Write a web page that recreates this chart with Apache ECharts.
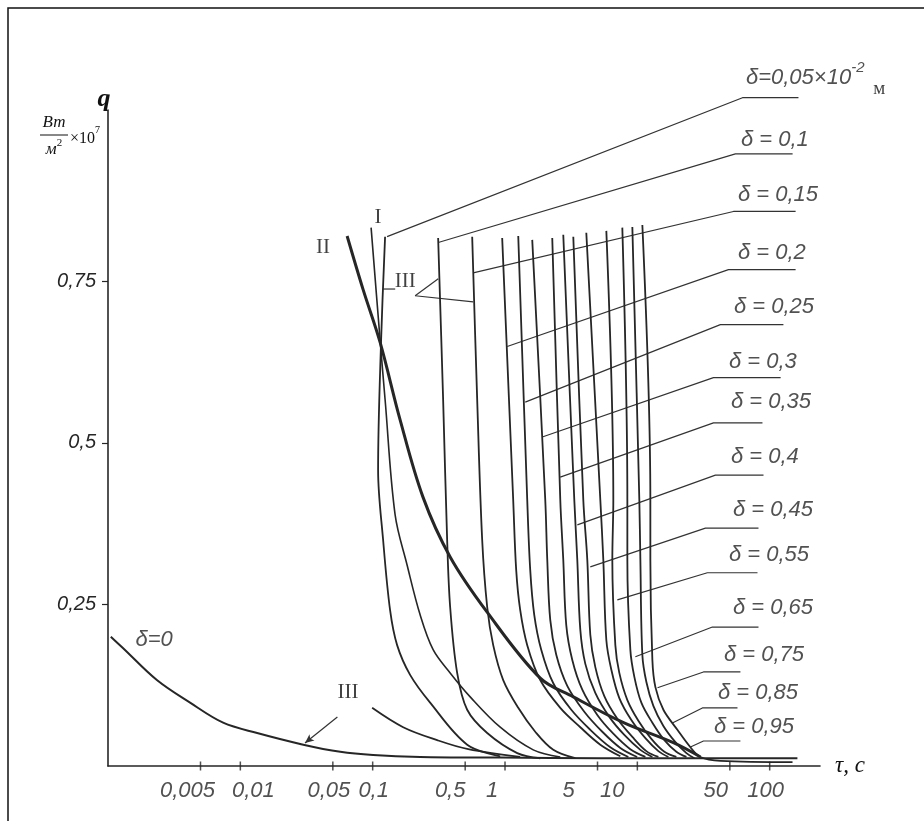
<!DOCTYPE html>
<html><head><meta charset="utf-8"><title>q(τ)</title>
<script src="https://cdn.jsdelivr.net/npm/echarts@6.0.0/dist/echarts.min.js"></script>
<style>html,body{margin:0;padding:0;background:#fff;}#chart{width:924px;height:821px;}</style>
</head><body><div id="chart"></div>
<script>
// ---------- data (τ in s, q in W/m² ×10^7) ----------
const xTickValues = [0.005, 0.01, 0.05, 0.1, 0.5, 1, 5, 10, 50, 100];
const xTickLabels = ['0,005', '0,01', '0,05', '0,1', '0,5', '1', '5', '10', '50', '100'];
const yTickValues = [0.25, 0.5, 0.75];
const yTickLabels = ['0,25', '0,5', '0,75'];

const curveDelta0 = [[0.00105,0.200],[0.00129,0.183],[0.00234,0.133],[0.00417,0.098],[0.00741,0.067],[0.0134,0.051],[0.0299,0.033],[0.0569,0.022],[0.1007,0.017],[0.229,0.014],[0.92,0.013],[5.25,0.012],[29.96,0.012],[162,0.012]];
const curveIIIshort = [[0.0991,0.090],[0.170,0.060],[0.307,0.040],[0.527,0.026],[1.30,0.014]];
const curveII = [[0.0641,0.820],[0.0847,0.737],[0.114,0.655],[0.161,0.536],[0.240,0.416],[0.385,0.3235],[0.733,0.238],[1.846,0.136],[3.281,0.107],[7.87,0.067],[18.7,0.036],[30.0,0.014]];
const curveI = [[0.0973,0.833],[0.1138,0.659],[0.1241,0.567],[0.1477,0.389],[0.182,0.311],[0.2283,0.234],[0.2863,0.180],[0.385,0.144],[0.5455,0.107],[0.92,0.060],[1.634,0.025],[2.616,0.014]];

const curveD005 = [[0.1241,0.819],[0.1158,0.659],[0.1099,0.458],[0.1199,0.350],[0.1354,0.241],[0.153,0.187],[0.1918,0.141],[0.2717,0.098],[0.5177,0.033],[0.92,0.015]];
const curveD010 = [[0.3124,0.817],[0.3407,0.567],[0.3654,0.350],[0.385,0.246],[0.4349,0.144],[0.5177,0.087],[0.7334,0.051],[1.237,0.020],[1.846,0.012]];
const curveD015 = [[0.5649,0.819],[0.6162,0.567],[0.6721,0.350],[0.7334,0.246],[0.8143,0.187],[0.9691,0.133],[1.259,0.090],[1.692,0.053],[2.316,0.025],[3.396,0.012]];
const curveD020 = [[0.952,0.817],[1.153,0.412],[1.215,0.303],[1.303,0.241],[1.472,0.187],[1.846,0.133],[2.616,0.090],[3.706,0.060],[5.25,0.033],[7.436,0.015]];
const curveD025 = [[1.259,0.820],[1.472,0.412],[1.551,0.303],[1.663,0.234],[1.878,0.180],[2.316,0.128],[3.168,0.087],[4.411,0.056],[6.25,0.029],[8.55,0.014]];
const curveD030 = [[1.606,0.814],[2.014,0.412],[2.086,0.319],[2.197,0.226],[2.439,0.172],[2.954,0.124],[3.973,0.084],[5.435,0.053],[7.436,0.028],[9.966,0.014]];
const curveD035 = [[2.275,0.817],[2.616,0.412],[2.756,0.319],[2.903,0.218],[3.224,0.164],[3.837,0.118],[4.983,0.079],[6.583,0.050],[8.851,0.026],[11.5,0.014]];
const curveD040 = [[2.756,0.822],[3.338,0.412],[3.517,0.319],[3.706,0.211],[4.044,0.158],[4.812,0.113],[6.141,0.076],[7.973,0.048],[10.54,0.025],[12.99,0.014]];
const curveD045 = [[3.281,0.819],[3.904,0.412],[4.186,0.319],[4.411,0.203],[4.812,0.153],[5.628,0.108],[7.061,0.073],[9.167,0.045],[11.7,0.023],[14.42,0.014]];
const curveD055 = [[4.114,0.825],[5.25,0.412],[5.531,0.319],[5.829,0.195],[6.359,0.149],[7.308,0.105],[9.008,0.071],[11.5,0.043],[14.42,0.023],[17.16,0.014]];
const curveD065 = [[5.829,0.828],[6.583,0.412],[6.47,0.319],[6.818,0.187],[7.308,0.144],[8.404,0.102],[10.18,0.070],[12.76,0.042],[16.01,0.022],[19.72,0.014]];
const curveD075 = [[7.699,0.833],[8.404,0.412],[8.404,0.319],[8.851,0.180],[9.491,0.138],[10.72,0.098],[12.99,0.067],[16.01,0.040],[19.72,0.022],[23.49,0.014]];
const curveD085 = [[9.167,0.834],[10.35,0.412],[10.54,0.319],[10.91,0.172],[11.7,0.130],[13.21,0.093],[15.73,0.062],[19.39,0.037],[23.49,0.020],[26.99,0.012]];
const curveD095 = [[10.91,0.837],[12.54,0.412],[12.54,0.319],[12.99,0.164],[13.69,0.122],[15.73,0.087],[20.07,0.056],[25.18,0.029],[29.96,0.014],[42.5,0.008],[148.8,0.006]];

const deltaCurves = [curveD005, curveD010, curveD015, curveD020, curveD025, curveD030, curveD035,
                     curveD040, curveD045, curveD055, curveD065, curveD075, curveD085, curveD095];

// labels of δ curves (text, anchor = left edge / middle of text)
const deltaLabelTexts = ['δ=0,05×10⁻² м', 'δ = 0,1', 'δ = 0,15', 'δ = 0,2', 'δ = 0,25', 'δ = 0,3', 'δ = 0,35',
                         'δ = 0,4', 'δ = 0,45', 'δ = 0,55', 'δ = 0,65', 'δ = 0,75', 'δ = 0,85', 'δ = 0,95'];
const deltaLabelPos = [[65.6,1.065],[60.1,0.969],[57.1,0.884],[57.1,0.794],[53.2,0.711],[48.8,0.625],[50.5,0.563],
                       [50.5,0.478],[52.3,0.396],[48.8,0.327],[52.3,0.245],[44.7,0.172],[40.3,0.113],[37.6,0.0604]];
// leader lines: underline right end, underline left end, point on curve
const leaderLines = [
  [[165,1.034],[62.3,1.034],[0.1285,0.819]],
  [[149,0.947],[55.1,0.947],[0.313,0.810]],
  [[157,0.858],[53.2,0.858],[0.575,0.763]],
  [[157,0.768],[48.8,0.768],[1.039,0.649]],
  [[127,0.683],[42.4,0.683],[1.422,0.563]],
  [[121,0.601],[37.6,0.601],[1.912,0.509]],
  [[88.2,0.531],[37.6,0.531],[2.615,0.447]],
  [[89.8,0.450],[38.9,0.450],[3.52,0.373]],
  [[82.3,0.368],[32.7,0.368],[4.41,0.308]],
  [[80.9,0.299],[33.8,0.299],[7.06,0.257]],
  [[82.3,0.215],[36.9,0.215],[9.66,0.169]],
  [[60.1,0.1455],[31.6,0.1455],[14.2,0.121]],
  [[57.1,0.0898],[31.0,0.0898],[18.4,0.0666]],
  [[60.1,0.0387],[31.6,0.0387],[25.2,0.0294]]
];
const delta0Text = 'δ=0';
const delta0Pos = [0.0016, 0.195];

const romanTexts = ['I', 'II', 'III', 'III'];
const romanPos = [[0.1099,0.848],[0.0421,0.802],[0.176,0.749],[0.0652,0.113]];
const romanLeaders = [
  [[0.12,0.738],[0.148,0.738]],
  [[0.2094,0.7276],[0.313,0.754]],
  [[0.2094,0.7276],[0.575,0.718]]
];
const romanArrow = [[0.0541,0.0759],[0.0308,0.0356]];

// ---------- styling ----------
const INK = '#262626';
const HAND = 'Liberation Sans';
const SERIF = 'Liberation Serif';
// horizontal shift (px) of each hand-written x label relative to its tick, as in the drawing
const xLabelShift = [-13, 13, -4, 1, -15, -13, -29, -25, -14, -4];

const chart = echarts.init(document.getElementById('chart'), null, {renderer: 'canvas'});

function curve(name, data, width) {
  return {type: 'line', name, data, smooth: 0.35, symbol: 'none', showSymbol: false, clip: false,
          silent: true, z: 3, lineStyle: {color: INK, width}};
}
function straight(name, data, width) {
  return {type: 'line', name, data, smooth: false, symbol: 'none', showSymbol: false, clip: false,
          silent: true, z: 2, lineStyle: {color: '#333', width}};
}

const series = [];
series.push(curve('δ=0', curveDelta0, 2.0));
series.push(curve('III', curveIIIshort, 1.8));
series.push(curve('II', curveII, 3.0));
series.push(curve('I', curveI, 1.6));
deltaCurves.forEach((c, i) => series.push(curve(deltaLabelTexts[i], c, 1.8)));
leaderLines.forEach((l, i) => series.push(straight('leader' + i, l, 1.2)));
romanLeaders.forEach((l, i) => series.push(straight('rl' + i, l, 1.2)));
series.push({
  type: 'line', name: 'arrow', clip: false, silent: true, smooth: false, z: 2,
  lineStyle: {color: '#333', width: 1.2},
  data: [{value: romanArrow[0], symbol: 'none'},
         {value: romanArrow[1], symbol: 'arrow', symbolSize: [6, 9], symbolRotate: 129}],
  itemStyle: {color: '#333'}
});

// δ labels
series.push({
  type: 'scatter', name: 'deltaLabels', clip: false, silent: true, symbolSize: 1,
  itemStyle: {color: 'rgba(0,0,0,0)'},
  data: deltaLabelTexts.map((t, i) => ({name: t, value: deltaLabelPos[i]})).concat([{name: delta0Text, value: delta0Pos}]),
  label: {
    show: true, position: 'right', distance: 0, color: INK,
    fontFamily: HAND, fontStyle: 'italic', fontSize: 22,
    formatter: p => p.dataIndex === 0 ? '{t|δ=0,05×10}{s|-2}{m| м}' : p.name,
    rich: {
      t: {fontFamily: HAND, fontStyle: 'italic', fontSize: 22, color: INK, lineHeight: 34},
      s: {fontFamily: HAND, fontStyle: 'italic', fontSize: 15, color: INK, verticalAlign: 'top', lineHeight: 34},
      m: {fontFamily: SERIF, fontStyle: 'normal', fontSize: 19, color: '#111', verticalAlign: 'bottom', lineHeight: 34, padding: [0, 0, -4, 4]}
    }
  }
});
// roman numerals
series.push({
  type: 'scatter', name: 'roman', clip: false, silent: true, symbolSize: 1,
  itemStyle: {color: 'rgba(0,0,0,0)'},
  data: romanTexts.map((t, i) => ({name: t, value: romanPos[i]})),
  label: {show: true, position: 'inside', formatter: p => p.name, color: '#111',
          fontFamily: SERIF, fontSize: 21}
});
// x tick marks and labels
series.push({
  type: 'scatter', name: 'xticks', clip: false, silent: true, symbol: 'rect', symbolSize: [1.5, 9],
  itemStyle: {color: INK},
  data: xTickValues.map((v, i) => ({name: xTickLabels[i], value: [v, 0], label: {offset: [xLabelShift[i], 0]}})),
  label: {show: true, position: 'bottom', distance: 9, formatter: p => p.name, color: INK,
          fontFamily: HAND, fontStyle: 'italic', fontSize: 22}
});

const option = {
  animation: false,
  backgroundColor: '#fff',
  grid: {left: 108, right: 104, top: 110, bottom: 55, containLabel: false},
  xAxis: {
    type: 'log', logBase: 10, min: 0.001, max: 240,
    axisLine: {show: true, lineStyle: {color: INK, width: 1.6}},
    axisTick: {show: false}, axisLabel: {show: false}, splitLine: {show: false}, minorTick: {show: false},
    name: 'τ, c', nameLocation: 'end', nameGap: 15,
    nameTextStyle: {fontFamily: SERIF, fontStyle: 'italic', fontSize: 23, color: '#111', verticalAlign: 'middle'}
  },
  yAxis: {
    type: 'value', min: 0, max: 1.015, interval: 0.25,
    axisLine: {show: true, lineStyle: {color: INK, width: 1.6}},
    axisTick: {show: true, length: 6, customValues: yTickValues, lineStyle: {color: INK, width: 1.2}},
    axisLabel: {
      customValues: yTickValues, margin: 12, color: INK,
      fontFamily: HAND, fontStyle: 'italic', fontSize: 20,
      formatter: v => { const i = yTickValues.indexOf(+v.toFixed(4)); return i >= 0 ? yTickLabels[i] : ''; }
    },
    splitLine: {show: false}
  },
  graphic: [
    {type: 'rect', silent: true, shape: {x: 8, y: 8, width: 940, height: 840},
     style: {fill: null, stroke: '#111', lineWidth: 1.5}},
    {type: 'text', silent: true, x: 104, y: 99,
     style: {text: 'q', fontFamily: SERIF, fontStyle: 'italic', fontWeight: 'bold', fontSize: 26,
             fill: '#111', align: 'center', verticalAlign: 'middle'}},
    {type: 'text', silent: true, x: 54, y: 123,
     style: {text: 'Вт', fontFamily: SERIF, fontStyle: 'italic', fontSize: 17, fill: '#111',
             align: 'center', verticalAlign: 'middle'}},
    {type: 'line', silent: true, shape: {x1: 40, y1: 135, x2: 68, y2: 135}, style: {stroke: '#111', lineWidth: 1}},
    {type: 'text', silent: true, x: 54, y: 148,
     style: {text: '{a|м}{s|2}', fontFamily: SERIF, fontSize: 17, fill: '#111', align: 'center', verticalAlign: 'middle',
             rich: {a: {fontFamily: SERIF, fontStyle: 'italic', fontSize: 17, fill: '#111', verticalAlign: 'bottom', lineHeight: 20},
                    s: {fontFamily: SERIF, fontSize: 11, fill: '#111', verticalAlign: 'top', lineHeight: 20}}}},
    {type: 'text', silent: true, x: 70, y: 136,
     style: {text: '{a|×10}{s|7}', fontFamily: SERIF, fontSize: 16, fill: '#111', align: 'left', verticalAlign: 'middle',
             rich: {a: {fontFamily: SERIF, fontSize: 16, fill: '#111', verticalAlign: 'bottom', lineHeight: 22},
                    s: {fontFamily: SERIF, fontSize: 10, fill: '#111', verticalAlign: 'top', lineHeight: 22}}}}
  ],
  series
};
chart.setOption(option);
</script></body></html>
